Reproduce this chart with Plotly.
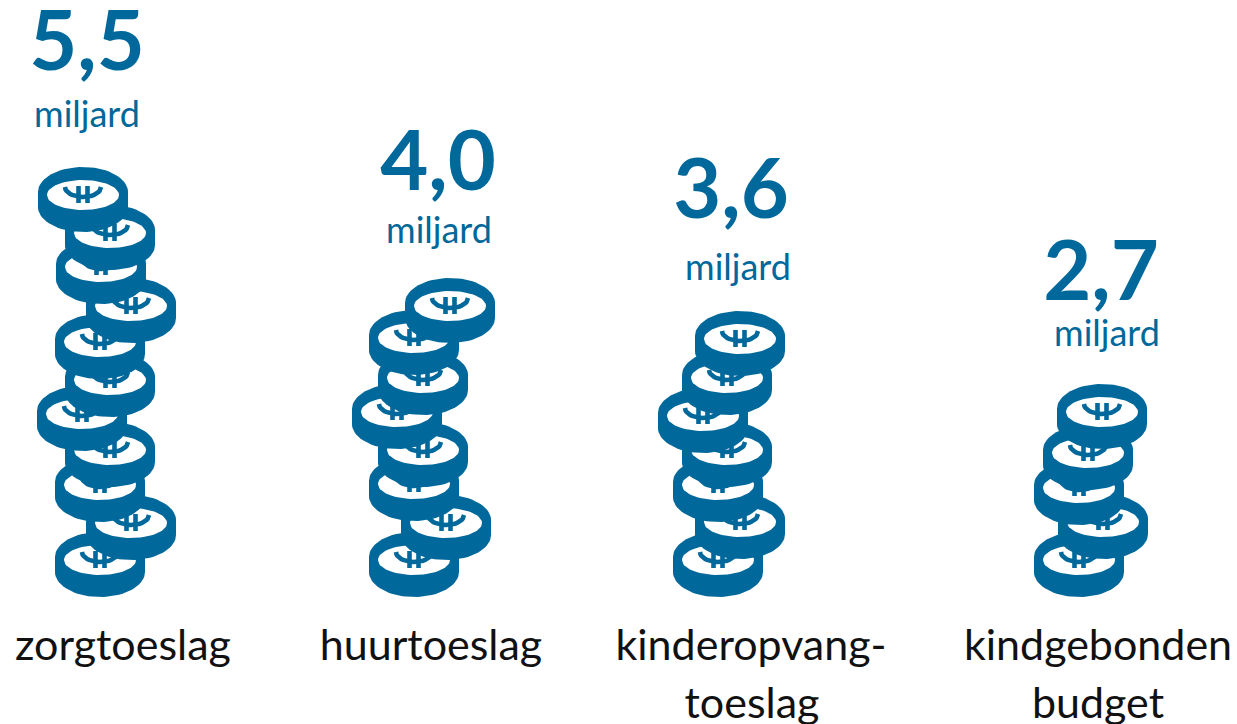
import numpy as np
import plotly.graph_objects as go

BLUE = "#01689b"
categories = ["zorgtoeslag", "huurtoeslag", "kinderopvang-", "kindgebonden"]
second_line = ["", "", "toeslag", "budget"]
values = ["5,5", "4,0", "3,6", "2,7"]
unit = "miljard"

value_x = [87, 438, 731, 1101]
value_y = [49, 169, 197, 279]
unit_x = [87, 439, 738, 1107]
unit_y = [118, 234, 271, 337]
label_x = [123, 431, 751, 1098]
second_x = [123, 431, 752, 1098]

zorg_x = [83, 110, 101, 131, 100, 110, 82, 110, 100, 131, 100]
zorg_y = [195, 233, 267, 306, 342, 380, 414, 450, 485, 523, 560]
huur_x = [450, 414, 423, 397, 423, 414, 446, 414]
huur_y = [306, 338, 378, 412, 450, 484, 523, 560]
kind_x = [740, 727, 703, 727, 718, 740, 718]
kind_y = [339, 378, 416, 450, 485, 522, 560]
budget_x = [1102, 1088, 1079, 1103, 1079]
budget_y = [412, 453, 488, 522, 560]

stacks = [(zorg_x, zorg_y), (huur_x, huur_y), (kind_x, kind_y), (budget_x, budget_y)]

t = np.linspace(0, 2 * np.pi, 73)
fig = go.Figure()


def add_coin(cx, cy):
    a = np.linspace(np.pi, 2 * np.pi, 37)
    b = np.linspace(0, np.pi, 37)
    bx = np.r_[cx + 45 * np.cos(a), cx + 45 * np.cos(b)]
    by = np.r_[cy - 3 + 25 * np.sin(a), cy + 12 + 25 * np.sin(b)]
    fig.add_trace(go.Scatter(x=bx, y=by, mode="lines", fill="toself", fillcolor=BLUE,
                             line=dict(color=BLUE, width=0), hoverinfo="skip"))
    fig.add_trace(go.Scatter(x=cx + 36 * np.cos(t), y=cy + 15 * np.sin(t), mode="lines",
                             fill="toself", fillcolor="white",
                             line=dict(color="white", width=0), hoverinfo="skip"))
    u = np.linspace(0, np.pi, 25)
    ex = list(cx + 18 * np.cos(u)) + [None, cx - 4.5, cx - 4.5, None, cx + 4.5, cx + 4.5]
    ey = list(cy - 8 + 10 * np.sin(u)) + [None, cy - 9, cy + 8, None, cy - 9, cy + 8]
    fig.add_trace(go.Scatter(x=ex, y=ey, mode="lines", connectgaps=False,
                             line=dict(color=BLUE, width=4.6), hoverinfo="skip"))


for xs, ys in stacks:
    for cx, cy in reversed(list(zip(xs, ys))):
        add_coin(cx, cy)

FONT = "Lato"
for xs, ys, texts, size, color in [
    (value_x, value_y, [f"<b>{v}</b>" for v in values], 83, BLUE),
    (unit_x, unit_y, [unit] * 4, 36, BLUE),
    (label_x, [649] * 4, categories, 43, "#111111"),
    (second_x, [707] * 4, second_line, 43, "#111111"),
]:
    fig.add_trace(go.Scatter(x=xs, y=ys, text=texts, mode="text", cliponaxis=False,
                             textposition="middle center",
                             textfont=dict(family=FONT, size=size, color=color),
                             hoverinfo="skip"))

fig.update_layout(
    width=1237, height=724, margin=dict(l=0, r=0, t=0, b=0),
    paper_bgcolor="white", plot_bgcolor="white", showlegend=False,
    xaxis=dict(range=[0, 1237], visible=False, fixedrange=True),
    yaxis=dict(range=[724, 0], visible=False, fixedrange=True),
)
fig.write_html("out.html", config=dict(displayModeBar=False),
               post_script="document.body.style.margin='0';document.body.style.overflow='hidden';")
